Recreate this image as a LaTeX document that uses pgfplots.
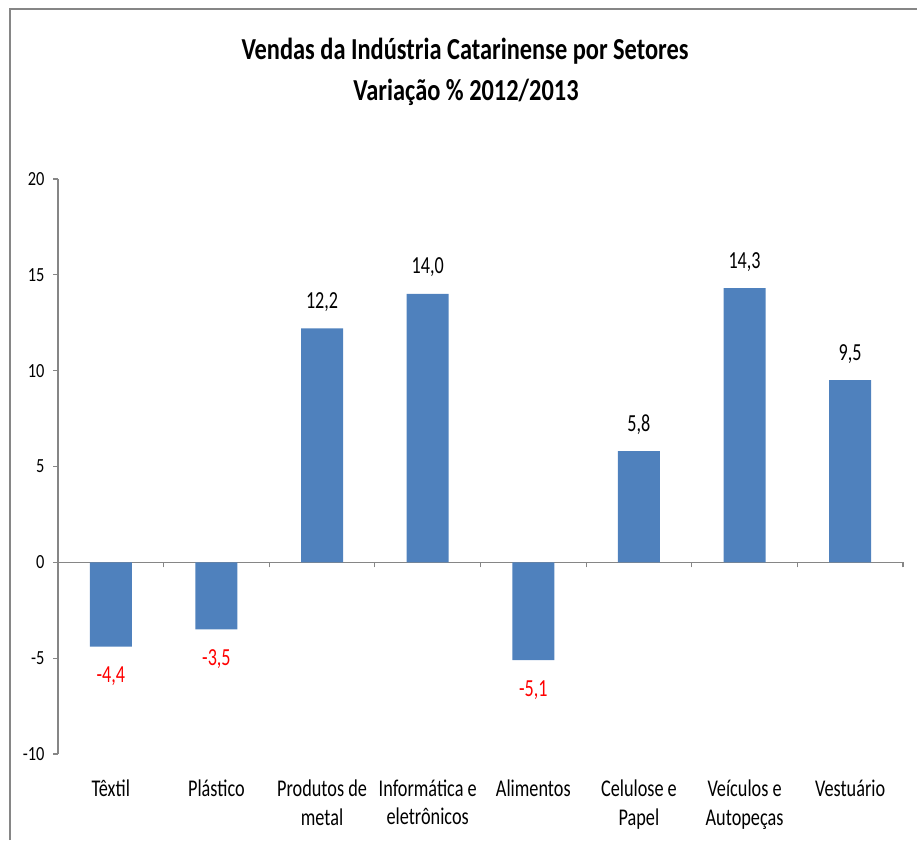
\documentclass[border=0pt]{standalone}
\usepackage{fontspec}
\setmainfont{Carlito}
\usepackage{pgfplots}
\pgfplotsset{compat=1.18}
\newfontfamily\titlefont[FakeStretch=0.8]{Carlito}
\newfontfamily\labfont[FakeStretch=0.76]{Carlito}
\newfontfamily\tickfont[FakeStretch=0.82]{Carlito}
\newfontfamily\valfont[FakeStretch=0.74]{Carlito}
\definecolor{barblue}{HTML}{4F81BD}
\definecolor{axgrey}{HTML}{868686}

\begin{document}
\begin{tikzpicture}[x=1pt,y=1pt]
\useasboundingbox (0,0) rectangle (917,840);
% chart frame
\draw[axgrey, line width=1.4pt] (10,0) -- (10,831) -- (917,831);
% title
\node[font=\titlefont\bfseries\fontsize{30.5}{36}\selectfont, anchor=base] at (465,780) {Vendas da Indústria Catarinense por Setores};
\node[font=\titlefont\bfseries\fontsize{30.5}{36}\selectfont, anchor=base] at (466,739.3) {Variação \% 2012/2013};

\begin{axis}[
  at={(58pt,86pt)}, anchor=south west,
  scale only axis, width=845pt, height=575pt,
  xmin=0.5, xmax=8.5, ymin=-10, ymax=20,
  ybar, bar width=42pt, bar shift=0pt,
  axis y line=left, axis x line=middle,
  x axis line style={-, axgrey, line width=1.2pt},
  y axis line style={-, axgrey, line width=1.2pt},
  tick style={axgrey, line width=1.2pt}, major tick length=5pt,
  tick align=outside,
  ytick={-10,-5,...,20},
  yticklabel style={font=\tickfont\fontsize{20}{24}\selectfont, xshift=-5pt},
  /pgf/number format/assume math mode=true,
  xtick={1.5,2.5,...,8.5}, xticklabels={},
  extra x ticks={1,...,8},
  extra x tick labels={Têxtil, Plástico, {Produtos de\\metal}, {Informática e\\eletrônicos}, Alimentos, {Celulose e\\Papel}, {Veículos e\\Autopeças}, Vestuário},
  extra x tick style={major tick length=0pt,
    xticklabel style={font=\labfont\fontsize{24}{28.5}\selectfont, align=center, anchor=north, yshift=-214pt}},
  nodes near coords={\pgfmathprintnumber[fixed, fixed zerofill, precision=1, use comma]{\pgfplotspointmeta}},
  clip=false,
]
\addplot[fill=barblue, draw=none,
  every node near coord/.append style={font=\valfont\fontsize{24.5}{28}\selectfont, black, anchor=base, yshift=20pt}]
  coordinates {(3,12.2) (4,14.0) (6,5.8) (7,14.3) (8,9.5)};
\addplot[fill=barblue, draw=none,
  every node near coord/.append style={font=\valfont\fontsize{24.5}{28}\selectfont, red, anchor=base, yshift=-36pt}]
  coordinates {(1,-4.4) (2,-3.5) (5,-5.1)};
\end{axis}
\end{tikzpicture}
\end{document}
